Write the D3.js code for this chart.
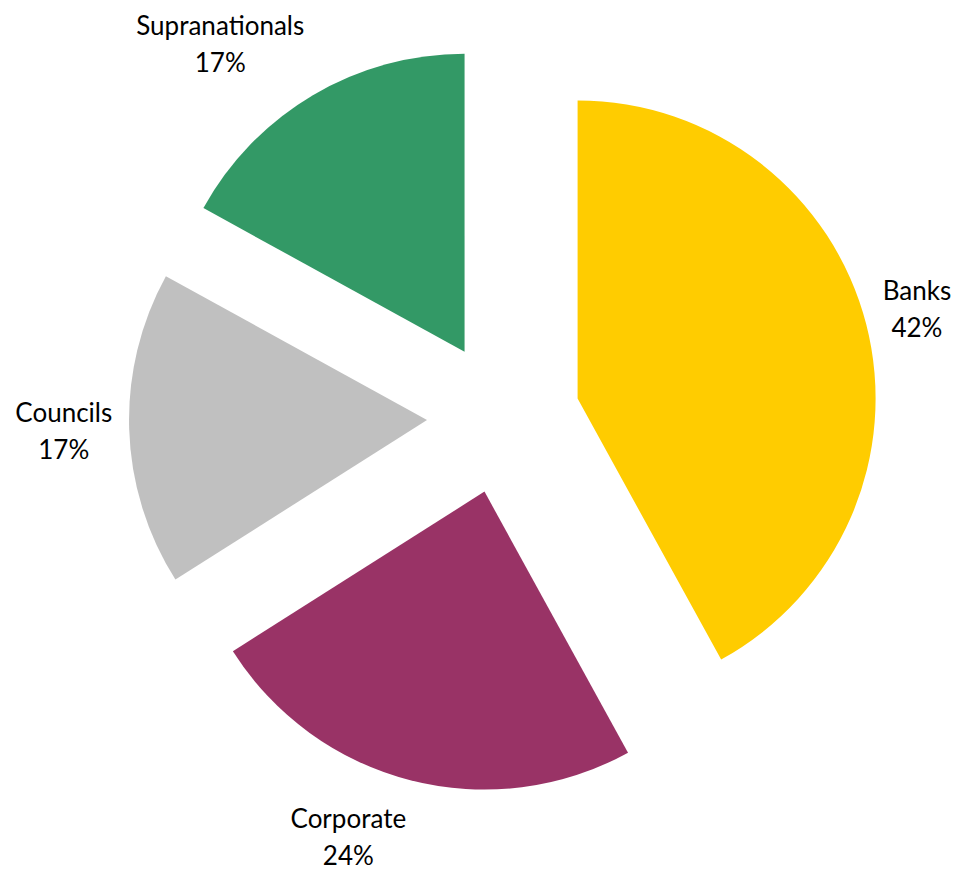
<!DOCTYPE html>
<html>
<head>
<meta charset="utf-8">
<script src="https://cdn.jsdelivr.net/npm/d3@7"></script>
<style>
  html, body { margin: 0; padding: 0; background: #fff; }
  svg { display: block; }
  .lbl { font-family: Lato, "Open Sans", sans-serif; font-size: 26px; fill: #000; }
</style>
</head>
<body>
<div id="chart"></div>
<script>
// data
var categories = ['Banks', 'Corporate', 'Councils', 'Supranationals'];
var shares = [42, 24, 17, 17];
var colors = ['#FFCC00', '#993366', '#C0C0C0', '#339966'];

var width = 967, height = 870;
var cx = 503.5, cy = 417.5;
var radius = 298;
var explode = 76.5;
var labelGap = 17, labelHalfH = 42, lineH = 37, capH = 18;

var svg = d3.select('#chart').append('svg')
  .attr('width', width).attr('height', height);

var pie = d3.pie().sort(null).value(d => d)(shares);
var arc = d3.arc().innerRadius(0).outerRadius(radius);

var g = svg.append('g').attr('transform', `translate(${cx},${cy})`);

var slices = g.selectAll('g.slice').data(pie).enter()
  .append('g')
  .attr('class', 'slice')
  .attr('transform', d => {
    var a = (d.startAngle + d.endAngle) / 2;
    return `translate(${Math.sin(a) * explode},${-Math.cos(a) * explode})`;
  });

slices.append('path')
  .attr('d', arc)
  .attr('fill', (d, i) => colors[i]);

// labels outside the end of each slice
slices.each(function (d, i) {
  var a = (d.startAngle + d.endAngle) / 2;
  var sx = Math.sin(a), sy = -Math.cos(a);
  var px = sx * (radius + labelGap);
  var py = sy * (radius + labelGap);
  var vc = py + sy * labelHalfH;
  var b1 = vc - (lineH - capH) / 2;
  var t = d3.select(this).append('text')
    .attr('class', 'lbl')
    .attr('text-anchor', sx >= 0 ? 'start' : 'end');
  t.append('tspan').attr('x', px).attr('y', b1).text(categories[i]);
  t.append('tspan').attr('x', px).attr('y', b1 + lineH)
    .text(d3.format('.0%')(d.value / d3.sum(shares)));
});

// center the two lines of each label on each other
slices.selectAll('text').each(function () {
  var t = d3.select(this);
  var anchor = t.attr('text-anchor');
  var spans = t.selectAll('tspan').nodes();
  var w = d3.max(spans, s => s.getComputedTextLength());
  spans.forEach(s => {
    var x0 = +s.getAttribute('x');
    var left = anchor === 'start' ? x0 : x0 - w;
    s.setAttribute('x', left + w / 2);
  });
  t.attr('text-anchor', 'middle');
});
</script>
</body>
</html>
